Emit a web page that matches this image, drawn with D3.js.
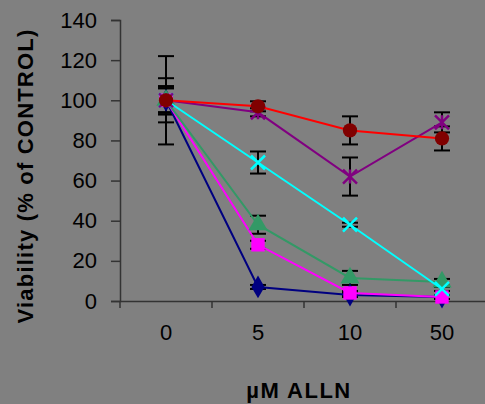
<!DOCTYPE html>
<html>
<head>
<meta charset="utf-8">
<script src="https://cdn.jsdelivr.net/npm/d3@7"></script>
<style>
  body { margin: 0; background: #808080; }
  svg { display: block; font-family: Arial, "Liberation Sans", sans-serif; }
</style>
</head>
<body>
<div id="chart"></div>
<script>
var categories = ["0", "5", "10", "50"];
var y_ticks = [0, 20, 40, 60, 80, 100, 120, 140];

var navy_values    = [100, 7, 3, 2];
var navy_err       = [6, 1, 1, 1];
var magenta_values = [100, 28, 4, 2];
var magenta_err    = [7, 2, 1, 1];
var green_values   = [100, 38, 11.5, 9.5];
var green_err      = [6, 4.5, 3.5, 1.5];
var cyan_values    = [100, 69, 38, 6];
var cyan_err       = [7, 5.5, 1, 1];
var purple_values  = [100, 94, 62, 89];
var purple_err     = [11, 2, 9.5, 5];
var red_values     = [100, 97, 85, 81];
var red_err        = [22, 2.5, 7, 6];

var series_list = [
  {name: "navy",    values: navy_values,    err: navy_err,    line: "#000080", fill: "#000080", marker: "diamond"},
  {name: "magenta", values: magenta_values, err: magenta_err, line: "#FF00FF", fill: "#FF00FF", marker: "square"},
  {name: "green",   values: green_values,   err: green_err,   line: "#339966", fill: "#339966", marker: "triangle"},
  {name: "cyan",    values: cyan_values,    err: cyan_err,    line: "#00FFFF", fill: "#00FFFF", marker: "x"},
  {name: "purple",  values: purple_values,  err: purple_err,  line: "#800080", fill: "#800080", marker: "star"},
  {name: "red",     values: red_values,     err: red_err,     line: "#FF0000", fill: "#800000", marker: "circle"}
];

var width_chart  = 485;
var height_chart = 404;

var svg_chart = d3.select("#chart").append("svg")
  .attr("width", width_chart)
  .attr("height", height_chart);

var x_chart = d3.scaleBand()
  .domain(categories)
  .range([120, 488]);
var y_chart = d3.scaleLinear()
  .domain([0, 140])
  .range([301, 20]);

function cx (i) { return x_chart(categories[i]) + x_chart.bandwidth()/2; }

// axes
var y_axis = svg_chart.append("g")
  .attr("transform", "translate(120,0)")
  .call(d3.axisLeft(y_chart).tickValues(y_ticks).tickSize(9).tickPadding(14));
var x_axis = svg_chart.append("g")
  .attr("transform", "translate(0,301)")
  .call(d3.axisBottom(x_chart).tickSize(0).tickPadding(39));

// x ticks sit between categories
x_axis.selectAll(".between")
  .data(d3.range(categories.length + 1))
  .enter().append("line")
  .attr("x1", function (d) { return 120 + d*x_chart.step(); })
  .attr("x2", function (d) { return 120 + d*x_chart.step(); })
  .attr("y1", 0).attr("y2", 7)
  .attr("stroke", "#333").attr("stroke-width", 1.5);

[y_axis, x_axis].forEach(function (a) {
  a.select(".domain").attr("stroke", "#333").attr("stroke-width", 1.5);
  a.selectAll(".tick line").attr("stroke", "#333").attr("stroke-width", 1.5);
  a.selectAll(".tick text").attr("fill", "#000").style("font-size", "22px")
    .style("font-family", "Arial, 'Liberation Sans', sans-serif");
});
x_axis.selectAll(".tick text").attr("dy", "0");

// titles
svg_chart.append("text")
  .attr("x", 299).attr("y", 398)
  .attr("text-anchor", "middle")
  .style("font-size", "22px").style("font-weight", "bold")
  .style("letter-spacing", "1.5px")
  .text("µM ALLN");
svg_chart.append("text")
  .attr("transform", "translate(33,176) rotate(-90)")
  .attr("text-anchor", "middle")
  .style("font-size", "22px").style("font-weight", "bold")
  .style("letter-spacing", "1.2px")
  .text("Viability (% of CONTROL)");

// error bars
var g_err = svg_chart.append("g");
series_list.forEach(function (s) {
  s.values.forEach(function (v, i) {
    var top = y_chart(v + s.err[i]), bot = y_chart(v - s.err[i]), x = cx(i);
    g_err.append("line").attr("x1", x).attr("x2", x).attr("y1", top).attr("y2", bot)
      .attr("stroke", "#000").attr("stroke-width", 2);
    [top, bot].forEach(function (yy) {
      g_err.append("line").attr("x1", x - 8).attr("x2", x + 8).attr("y1", yy).attr("y2", yy)
        .attr("stroke", "#000").attr("stroke-width", 2);
    });
  });
});

var line_chart = d3.line()
  .x(function (d, i) { return cx(i); })
  .y(function (d) { return y_chart(d); });

var symbols = {
  diamond: d3.symbol().type(d3.symbolDiamond).size(150),
  square: d3.symbol().type(d3.symbolSquare).size(180),
  triangle: d3.symbol().type(d3.symbolTriangle).size(160),
  circle: d3.symbol().type(d3.symbolCircle).size(160)
};

series_list.forEach(function (s) {
  var g = svg_chart.append("g");
  g.append("path")
    .datum(s.values)
    .attr("d", line_chart)
    .attr("fill", "none")
    .attr("stroke", s.line)
    .attr("stroke-width", 2);
  s.values.forEach(function (v, i) {
    var x = cx(i), y = y_chart(v);
    if (s.marker === "x" || s.marker === "star") {
      var r = 7;
      var p = "M" + (x - r) + "," + (y - r) + "L" + (x + r) + "," + (y + r) +
              "M" + (x - r) + "," + (y + r) + "L" + (x + r) + "," + (y - r);
      if (s.marker === "star") p += "M" + x + "," + (y - r) + "L" + x + "," + (y + r);
      g.append("path").attr("d", p).attr("stroke", s.fill).attr("stroke-width", 2.5).attr("fill", "none");
    } else {
      g.append("path")
        .attr("d", symbols[s.marker]())
        .attr("transform", "translate(" + x + "," + y + ")")
        .attr("fill", s.fill);
    }
  });
});
</script>
</body>
</html>
